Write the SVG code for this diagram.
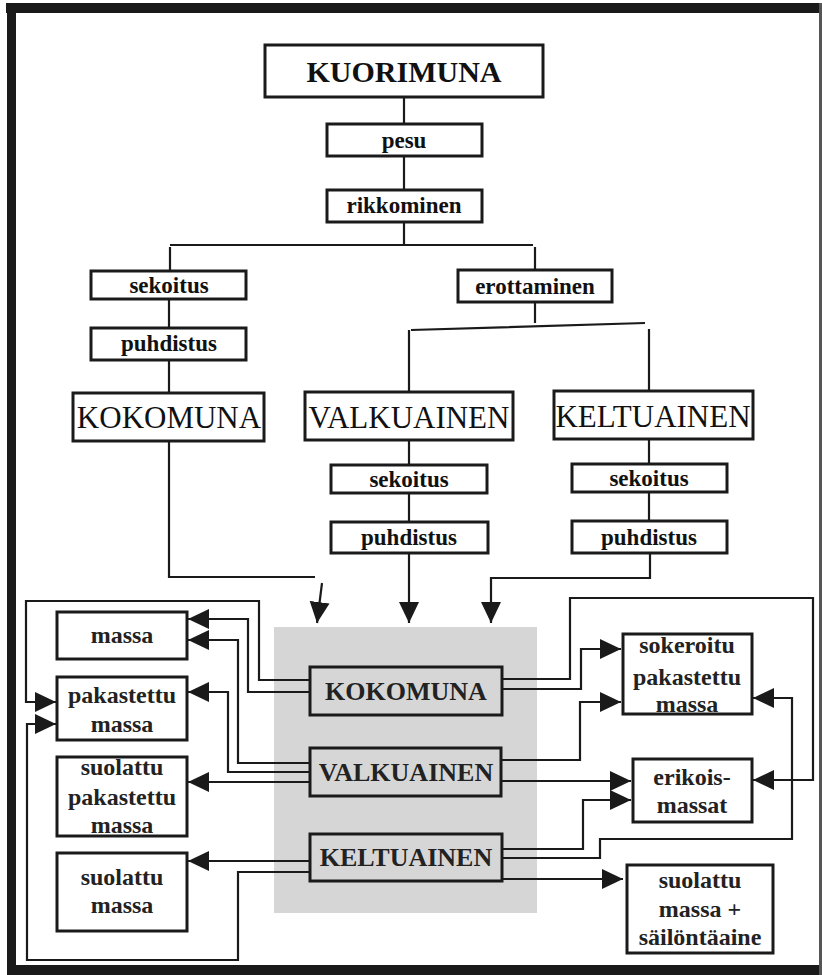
<svg xmlns="http://www.w3.org/2000/svg" width="822" height="975" viewBox="0 0 822 975">
<defs>
<style>
.box{fill:#fff;stroke:#1a1a1a;stroke-width:3}
.cbox{fill:#d6d6d6;stroke:#1a1a1a;stroke-width:3}
.ln{fill:none;stroke:#1a1a1a;stroke-width:2.2}
.lbl{font-family:"Liberation Serif","Times New Roman",serif;font-weight:bold;font-size:23px;fill:#111;text-anchor:middle}
.big{font-family:"Liberation Serif","Times New Roman",serif;font-size:31px;fill:#111;text-anchor:middle}
.top{font-family:"Liberation Serif","Times New Roman",serif;font-weight:bold;font-size:30px;fill:#111;text-anchor:middle}
.mid{font-family:"Liberation Serif","Times New Roman",serif;font-weight:bold;font-size:26px;fill:#222;text-anchor:middle}
.out{font-family:"Liberation Serif","Times New Roman",serif;font-weight:bold;font-size:24px;fill:#222;text-anchor:middle}
</style>
<marker id="ah" markerUnits="userSpaceOnUse" markerWidth="22" markerHeight="22" viewBox="0 0 22 22" refX="21" refY="11" orient="auto">
<path d="M0,1 L21,11 L0,21 Z" fill="#1a1a1a"/>
</marker>
</defs>
<rect width="822" height="975" fill="#fff"/>
<g id="frame" fill="#1a1a1a">
<rect x="6" y="3" width="816" height="10"/>
<rect x="7" y="3" width="9" height="972"/>
<rect x="7" y="965" width="815" height="10"/>
<rect x="819" y="3" width="3" height="972" fill="#555"/>
</g>
<rect id="shade" x="274" y="627" width="263" height="286" fill="#d6d6d6"/>
<g id="connectors" class="ln">
<path d="M404,97 V124 M404,156 V190 M404,222 V245 M170,245 H533 M170,247 V270 M535,247 V269"/>
<path d="M169,299 V327 M169,361 V392"/>
<path d="M535,303 V323 M411,330 L645,323 M409,330 V392 M649,329 V391"/>
<path d="M409,441 V465 M409,493 V522 M649,440 V464 M649,492 V521"/>
<path d="M169,441 V577 H315"/>
<path d="M322,583 L317,623" marker-end="url(#ah)"/>
<path d="M409,553 V623" marker-end="url(#ah)"/>
<path d="M650,553 V578 H491 V623" marker-end="url(#ah)"/>
<path d="M310,680 H259 V601 H26 V702 H56" marker-end="url(#ah)"/>
<path d="M310,692 H248 V619 H188" marker-end="url(#ah)"/>
<path d="M310,763 H238 V640 H188" marker-end="url(#ah)"/>
<path d="M310,772 H228 V692 H188" marker-end="url(#ah)"/>
<path d="M310,782 H188" marker-end="url(#ah)"/>
<path d="M310,861 H188" marker-end="url(#ah)"/>
<path d="M310,872 H238 V960 H27 V724 H56" marker-end="url(#ah)"/>
<path d="M502,679 H570 V598 H813 V780 H753" marker-end="url(#ah)"/>
<path d="M502,689 H581 V649 H621" marker-end="url(#ah)"/>
<path d="M502,760 H580 V702 H621" marker-end="url(#ah)"/>
<path d="M502,781 H631" marker-end="url(#ah)"/>
<path d="M502,849 H583 V800 H631" marker-end="url(#ah)"/>
<path d="M502,858 H600 V839 H792 V698 H753" marker-end="url(#ah)"/>
<path d="M502,879 H623" marker-end="url(#ah)"/>
</g>
<g id="kuorimuna"><rect class="box" x="265" y="45" width="278" height="52"/><text class="top" x="404" y="82">KUORIMUNA</text></g>
<g id="pesu"><rect class="box" x="327" y="124" width="155" height="32"/><text class="lbl" x="404" y="148">pesu</text></g>
<g id="rikkominen"><rect class="box" x="327" y="190" width="155" height="32"/><text class="lbl" x="404" y="213">rikkominen</text></g>
<g id="sekoitus1"><rect class="box" x="91" y="271" width="155" height="28"/><text class="lbl" x="169" y="293">sekoitus</text></g>
<g id="erottaminen"><rect class="box" x="458" y="270" width="154" height="32"/><text class="lbl" x="535" y="294">erottaminen</text></g>
<g id="puhdistus1"><rect class="box" x="91" y="328" width="155" height="32"/><text class="lbl" x="169" y="351">puhdistus</text></g>
<g id="kokomuna1"><rect class="box" x="73" y="393" width="191" height="48"/><text class="big" x="169" y="428">KOKOMUNA</text></g>
<g id="valkuainen1"><rect class="box" x="305" y="392" width="208" height="48"/><text class="big" x="409" y="428">VALKUAINEN</text></g>
<g id="keltuainen1"><rect class="box" x="554" y="391" width="199" height="48"/><text class="big" x="653" y="427">KELTUAINEN</text></g>
<g id="sekoitus2"><rect class="box" x="331" y="465" width="156" height="28"/><text class="lbl" x="409" y="487">sekoitus</text></g>
<g id="puhdistus2"><rect class="box" x="331" y="522" width="157" height="31"/><text class="lbl" x="409" y="545">puhdistus</text></g>
<g id="sekoitus3"><rect class="box" x="572" y="464" width="155" height="28"/><text class="lbl" x="649" y="486">sekoitus</text></g>
<g id="puhdistus3"><rect class="box" x="572" y="521" width="155" height="32"/><text class="lbl" x="649" y="545">puhdistus</text></g>
<g id="kokomuna2"><rect class="cbox" x="310" y="667" width="192" height="48"/><text class="mid" x="406" y="700">KOKOMUNA</text></g>
<g id="valkuainen2"><rect class="cbox" x="310" y="748" width="191" height="48"/><text class="mid" x="406" y="781">VALKUAINEN</text></g>
<g id="keltuainen2"><rect class="cbox" x="310" y="834" width="192" height="47"/><text class="mid" x="406" y="866">KELTUAINEN</text></g>
<g id="massa"><rect class="box" x="57" y="612" width="130" height="47"/><text class="out" x="122" y="643">massa</text></g>
<g id="pakastettu"><rect class="box" x="57" y="677" width="130" height="63"/><text class="out" x="122" y="703">pakastettu</text><text class="out" x="122" y="732">massa</text></g>
<g id="suolattu-pakastettu"><rect class="box" x="57" y="757" width="130" height="79"/><text class="out" x="122" y="775">suolattu</text><text class="out" x="122" y="805">pakastettu</text><text class="out" x="122" y="833">massa</text></g>
<g id="suolattu"><rect class="box" x="57" y="853" width="130" height="78"/><text class="out" x="122" y="885">suolattu</text><text class="out" x="122" y="913">massa</text></g>
<g id="sokeroitu"><rect class="box" x="623" y="634" width="129" height="80"/><text class="out" x="687" y="653">sokeroitu</text><text class="out" x="687" y="685">pakastettu</text><text class="out" x="687" y="712">massa</text></g>
<g id="erikois"><rect class="box" x="633" y="759" width="119" height="63"/><text class="out" x="692" y="785">erikois-</text><text class="out" x="692" y="813">massat</text></g>
<g id="sailonta"><rect class="box" x="627" y="865" width="146" height="88"/><text class="out" x="700" y="888">suolattu</text><text class="out" x="700" y="917">massa +</text><text class="out" x="700" y="945">säilöntäaine</text></g>
</svg>
